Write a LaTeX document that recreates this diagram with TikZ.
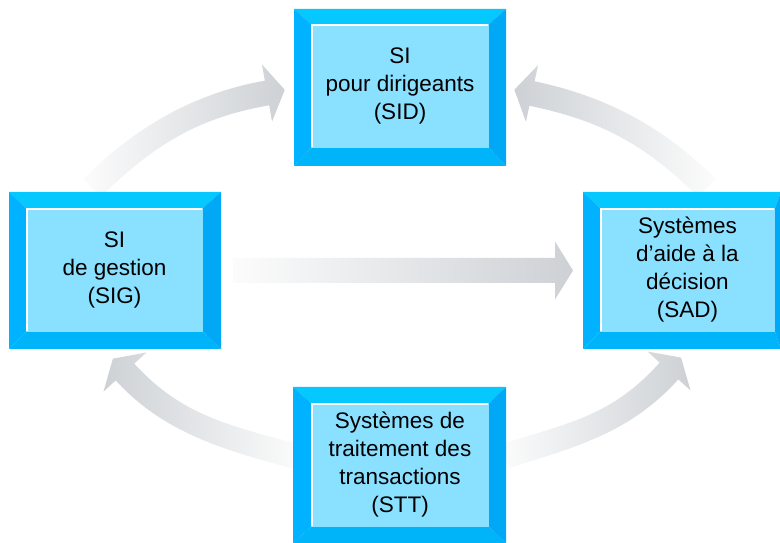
\documentclass[tikz,border=0pt]{standalone}
\usepackage{fontspec}
\setmainfont{Liberation Sans}
\usetikzlibrary{calc}
\definecolor{bevtop}{HTML}{05C8FF}
\definecolor{bevleft}{HTML}{00B2FF}
\definecolor{bevright}{HTML}{00A8F6}
\definecolor{bevbot}{HTML}{00B4FA}
\definecolor{panel}{HTML}{8AE0FF}
\definecolor{arrtail}{HTML}{FCFCFC}
\definecolor{arrhead}{HTML}{CDD1D5}
\tikzset{
  panelbox/.style={fill=panel, inner sep=0pt, align=center,
    font=\fontsize{22.5}{28}\selectfont, text=black},
  toright/.style={left color=arrtail, right color=arrhead},
  toleft/.style={left color=arrhead, right color=arrtail}
}
% #1 name, #2 outer x1, #3 outer y1, #4 outer x2, #5 outer y2, #6 inner x1, #7 inner y1, #8 inner x2, #9 inner y2
\newcommand\bevbox[9]{%
  \fill[bevtop] (#2,#5) -- (#4,#5) -- (#8,#9) -- (#6,#9) -- cycle;
  \fill[bevleft] (#2,#3) -- (#2,#5) -- (#6,#9) -- (#6,#7) -- cycle;
  \fill[bevbot] (#2,#3) -- (#4,#3) -- (#8,#7) -- (#6,#7) -- cycle;
  \fill[bevright] (#4,#3) -- (#4,#5) -- (#8,#9) -- (#8,#7) -- cycle;
  \coordinate (#1-sw) at (#6,#7);
  \coordinate (#1-ne) at (#8,#9);
}
% #1 shading opts, #2 start coord, #3 start angle, #4 base coord, #5 end angle, #6 c1 length, #7 c2 length
\newcommand\curvarrow[7]{%
  \shade[#1] ($(#2)+(#3+90:12.5)$)
    .. controls ($(#2)+(#3+90:12.5)+(#3:#6)$) and ($(#4)+(#5+90:12.5)+(#5+180:#7)$) .. ($(#4)+(#5+90:12.5)$)
    -- ($(#4)+(#5+90:29)$) -- ($(#4)+(#5:18)$) -- ($(#4)+(#5-90:29)$) -- ($(#4)+(#5-90:12.5)$)
    .. controls ($(#4)+(#5-90:12.5)+(#5+180:#7)$) and ($(#2)+(#3-90:12.5)+(#3:#6)$) .. ($(#2)+(#3-90:12.5)$)
    -- cycle;
}
\begin{document}
\begin{tikzpicture}[x=1pt,y=1pt]
\clip (0,0) rectangle (780,543);
\fill[white] (0,0) rectangle (780,543);

% arrow anchor coordinates
\coordinate (tls) at (92,355);  \coordinate (tlb) at (267,450);
\coordinate (trs) at (707,355); \coordinate (trb) at (532,449.5);
\coordinate (bls) at (298,86);  \coordinate (blb) at (125,171);
\coordinate (brs) at (505,87);  \coordinate (brb) at (669,172);
\coordinate (ms) at (233,272.5); \coordinate (mb) at (555,272.5);

% curved arrows
\curvarrow{toright}{tls}{45}{tlb}{10}{85}{61}
\curvarrow{toleft}{trs}{135}{trb}{168}{85}{61}
\curvarrow{toleft}{bls}{165}{blb}{132.3}{75}{70}
\curvarrow{toright}{brs}{17}{brb}{47.9}{75}{70}
% straight arrow
\shade[toright] ($(ms)+(0,12.5)$) -- ($(mb)+(0,12.5)$) -- ($(mb)+(0,29)$)
  -- ($(mb)+(18,0)$) -- ($(mb)+(0,-29)$) -- ($(mb)+(0,-12.5)$) -- ($(ms)+(0,-12.5)$) -- cycle;

% boxes
\bevbox{sidb}{294}{377}{506}{534}{311}{395}{489}{519}
\bevbox{sigb}{9}{194}{221}{351}{26}{211}{203}{335}
\bevbox{sadb}{583}{194}{781}{351}{600}{211}{775}{335}
\bevbox{sttb}{293}{0}{506}{156}{311}{16}{489}{140}

\node[panelbox, minimum width=178, minimum height=124] (sid) at (400,457)
  {SI\\pour dirigeants\\(SID)};
\node[panelbox, minimum width=177, minimum height=124] (sig) at (114.5,273)
  {SI\\de gestion\\(SIG)};
\node[panelbox, minimum width=175, minimum height=124] (sad) at (687.5,273)
  {Systèmes\\d’aide à la\\décision\\(SAD)};
\node[panelbox, minimum width=178, minimum height=124] (stt) at (400,78)
  {Systèmes de\\traitement des\\transactions\\(STT)};

\foreach \n in {sid,sig,sad,stt}{
  \draw[white, line width=1.6] ([shift={(1,1)}]\n.south west) -- ([shift={(1,-1)}]\n.north west) -- ([shift={(-1,-1)}]\n.north east);
}
\end{tikzpicture}
\end{document}
